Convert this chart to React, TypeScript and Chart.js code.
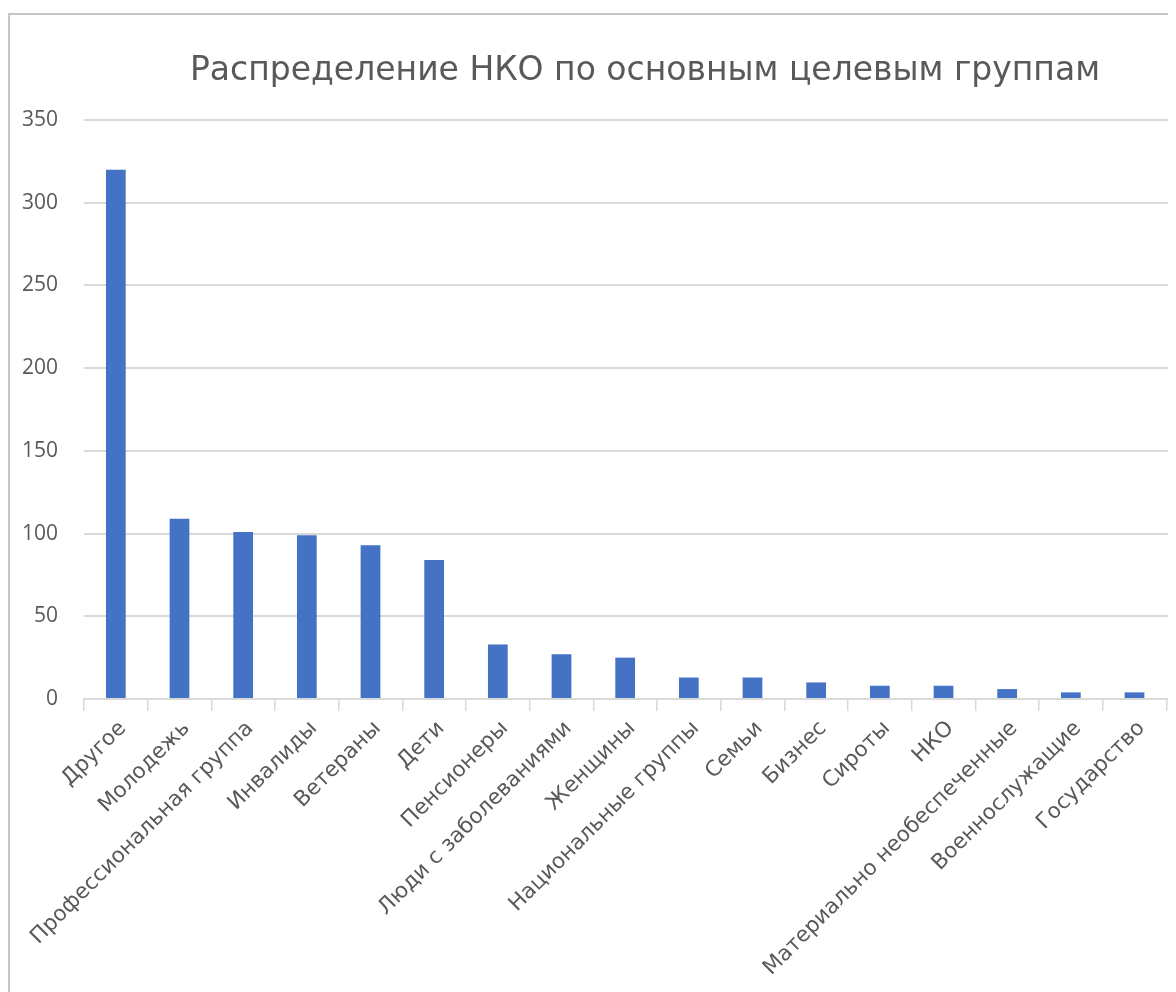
import React, { useEffect, useRef } from "react";
import { Chart, registerables } from "chart.js";

Chart.register(...registerables);

const TITLE = "Распределение НКО по основным целевым группам";

const categories: string[] = [
  "Другое",
  "Молодежь",
  "Профессиональная группа",
  "Инвалиды",
  "Ветераны",
  "Дети",
  "Пенсионеры",
  "Люди с заболеваниями",
  "Женщины",
  "Национальные группы",
  "Семьи",
  "Бизнес",
  "Сироты",
  "НКО",
  "Материально необеспеченные",
  "Военнослужащие",
  "Государство",
  "",
];

const values: (number | null)[] = [320, 109, 101, 99, 93, 84, 33, 27, 25, 13, 13, 10, 8, 8, 6, 4, 4, null];

const yTicks: number[] = [0, 50, 100, 150, 200, 250, 300, 350];

const CANVAS_W = 1270;
const CANVAS_H = 1000;
const PLOT_LEFT = 74;
const RIGHT_SPACE = 50;
const PLOT_BOTTOM = 684;

export default function App() {
  const ref = useRef<HTMLCanvasElement | null>(null);

  useEffect(() => {
    if (!ref.current) return;
    const textColor = "#595959";
    const gridColor = "#d9d9d9";
    const chart = new Chart(ref.current, {
      type: "bar",
      data: {
        labels: categories,
        datasets: [
          {
            data: values,
            backgroundColor: "#4472C4",
            borderWidth: 0,
            barPercentage: 0.31,
            categoryPercentage: 1,
          },
        ],
      },
      options: {
        responsive: false,
        animation: false,
        layout: { padding: 0 },
        plugins: {
          legend: { display: false },
          tooltip: { enabled: false },
          title: {
            display: true,
            text: TITLE,
            color: textColor,
            font: { family: "'DejaVu Sans', sans-serif", size: 33, weight: "normal" },
            padding: { top: 37, bottom: 28.4 },
          },
        },
        scales: {
          x: {
            type: "category",
            offset: true,
            grid: {
              display: true,
              offset: true,
              drawOnChartArea: false,
              drawTicks: true,
              tickLength: 12,
              color: gridColor,
              lineWidth: 1.5,
            },
            border: { display: true, color: gridColor, width: 2 },
            ticks: {
              color: textColor,
              font: { family: "'DejaVu Sans', sans-serif", size: 21.5 },
              minRotation: 45,
              maxRotation: 45,
              autoSkip: false,
              padding: 5,
              labelOffset: 7,
            },
            afterFit: (scale: any) => {
              scale.height = CANVAS_H - PLOT_BOTTOM;
            },
          },
          y: {
            min: 0,
            max: 350,
            afterBuildTicks: (scale: any) => {
              scale.ticks = yTicks.map((v) => ({ value: v }));
            },
            grid: { color: gridColor, lineWidth: 2, drawTicks: false },
            border: { display: false },
            ticks: {
              color: textColor,
              font: { family: "'Open Sans', sans-serif", size: 21 },
              padding: 26,
            },
            afterFit: (scale: any) => {
              scale.width = PLOT_LEFT;
            },
          },
          yRight: {
            position: "right",
            display: true,
            min: 0,
            max: 350,
            grid: { display: false, drawTicks: false },
            border: { display: false },
            ticks: { display: false },
            afterFit: (scale: any) => {
              scale.width = RIGHT_SPACE;
            },
          },
        },
      },
    });
    return () => chart.destroy();
  }, []);

  return (
    <div style={{ width: 1168, height: 979, overflow: "hidden", marginTop: 5 }}>
      <div
        style={{
          width: CANVAS_W,
          height: CANVAS_H,
          border: "2px solid #c6c6c6",
          background: "#fff",
        }}
      >
        <canvas ref={ref} width={CANVAS_W} height={CANVAS_H} style={{ display: "block" }} />
      </div>
    </div>
  );
}
